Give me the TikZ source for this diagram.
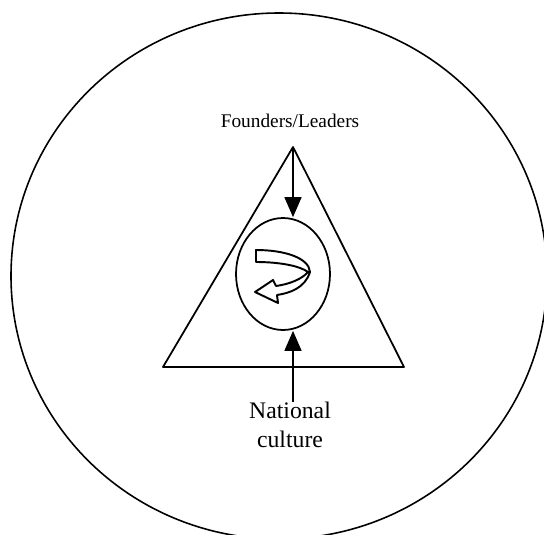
\documentclass[tikz,border=0pt]{standalone}
\usepackage{fontspec}
\setmainfont{Liberation Serif}
\usepackage{tikz}
\usetikzlibrary{arrows.meta,shapes.geometric}
\tikzstyle{lbl}=[font=\fontsize{11}{13}\selectfont, inner sep=1pt, align=center]
\tikzstyle{infl}=[-{Triangle[length=4mm,width=3.4mm]}, line width=0.9pt]
\tikzstyle{edge}=[draw, line width=1pt]
\begin{document}
\begin{tikzpicture}[x=0.02cm,y=-0.02cm]
\useasboundingbox (0,0) rectangle (544,534);
\clip (0,0) rectangle (544,534);
% outer circle
\draw[line width=0.9pt] (279,276) ellipse [x radius=268, y radius=263];
% triangle
\coordinate (apex) at (293,147);
\coordinate (bl) at (163,367);
\coordinate (br) at (404,367);
\draw[edge, line join=round] (apex) -- (bl) -- (br) -- cycle;
% oval in the middle
\node[draw, ellipse, line width=1pt, inner sep=0pt,
      minimum width=1.88cm, minimum height=2.24cm] (core) at (283,274) {};
% curled arrow
\draw[line width=1.1pt, fill=white, line join=round]
  (256,250) .. controls (285,250) and (309,258) .. (310,272)
  .. controls (305,288) and (290,293) .. (277,295)
  -- (278,303) -- (255,292) -- (273,280) -- (276,286)
  .. controls (290,284) and (302,279) .. (308,272)
  .. controls (300,266) and (280,262) .. (256,262) -- cycle;
% labels
\node[lbl] (lead) at (290,121) {Founders/Leaders};
\node[lbl, font=\fontsize{13.5}{16.5}\selectfont] (natc) at (290,425) {National\\culture};
\coordinate (natin) at (293,402);
\draw[infl] (apex) -- (apex |- core.north);
\draw[infl] (natin) -- (natin |- core.south);
\end{tikzpicture}
\end{document}
